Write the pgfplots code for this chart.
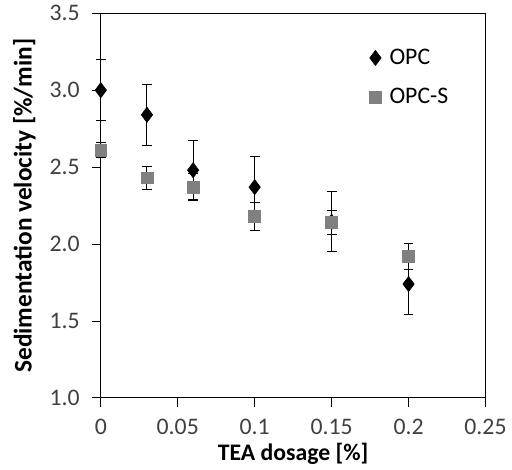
\documentclass[border=0pt]{standalone}
\usepackage{pgfplots}
\pgfplotsset{compat=1.18}
\usepackage{fontspec}
\setmainfont{Carlito}
\definecolor{sgray}{HTML}{808080}
\definecolor{tickgray}{HTML}{404040}
\begin{document}
\begin{tikzpicture}
\begin{axis}[
  scale only axis, width=235pt, height=235pt,
  xmin=0, xmax=0.25, ymin=1, ymax=3.5,
  clip=false,
  xtick={0,0.05,0.1,0.15,0.2,0.25},
  xticklabels={0,0.05,0.1,0.15,0.2,0.25},
  ytick={1,1.5,2,2.5,3,3.5},
  yticklabels={1.0,1.5,2.0,2.5,3.0,3.5},
  tick pos=left, tick align=outside,
  major tick length=5.4pt,
  tick style={black, line width=0.6pt},
  axis line style={black, line width=0.6pt},
  ticklabel style={font=\fontsize{14.5}{16}\selectfont, text=tickgray},
  xticklabel style={yshift=-4pt},
  yticklabel style={xshift=-4pt},
  xlabel={TEA dosage [\%]},
  ylabel={Sedimentation velocity [\%/min]},
  xlabel style={font=\bfseries\fontsize{14.5}{16}\selectfont, yshift=2pt},
  ylabel style={font=\bfseries\fontsize{15.5}{17}\selectfont, inner ysep=8pt, yshift=-3pt},
  legend style={draw=none, at={(0.685,0.925)}, anchor=north west, font=\fontsize{14.5}{16}\selectfont, row sep=9pt, fill=none},
  legend cell align=left,
]
\addplot[only marks, mark=diamond*, mark size=4.6pt, black, mark options={fill=black},
  error bars/.cd, y dir=both, y explicit, error bar style={black, line width=0.6pt},
  error mark options={rotate=90, mark size=3pt, line width=0.6pt}]
  table[x=x, y=y, y error=e] {
  x y e
  0 3.00 0.20
  0.03 2.84 0.20
  0.06 2.48 0.19
  0.1 2.37 0.20
  0.15 2.145 0.195
  0.2 1.74 0.20
};
\addlegendentry{\hspace{3pt}OPC}
\addplot[only marks, mark=square*, mark size=3.6pt, sgray, mark options={fill=sgray, draw=sgray},
  error bars/.cd, y dir=both, y explicit, error bar style={black, line width=0.6pt},
  error mark options={rotate=90, mark size=3pt, line width=0.6pt, black}]
  table[x=x, y=y, y error=e] {
  x y e
  0 2.61 0.05
  0.03 2.43 0.075
  0.06 2.37 0.09
  0.1 2.18 0.09
  0.15 2.14 0.08
  0.2 1.92 0.085
};
\addlegendentry{\hspace{3pt}OPC-S}
\end{axis}
\end{tikzpicture}
\end{document}
